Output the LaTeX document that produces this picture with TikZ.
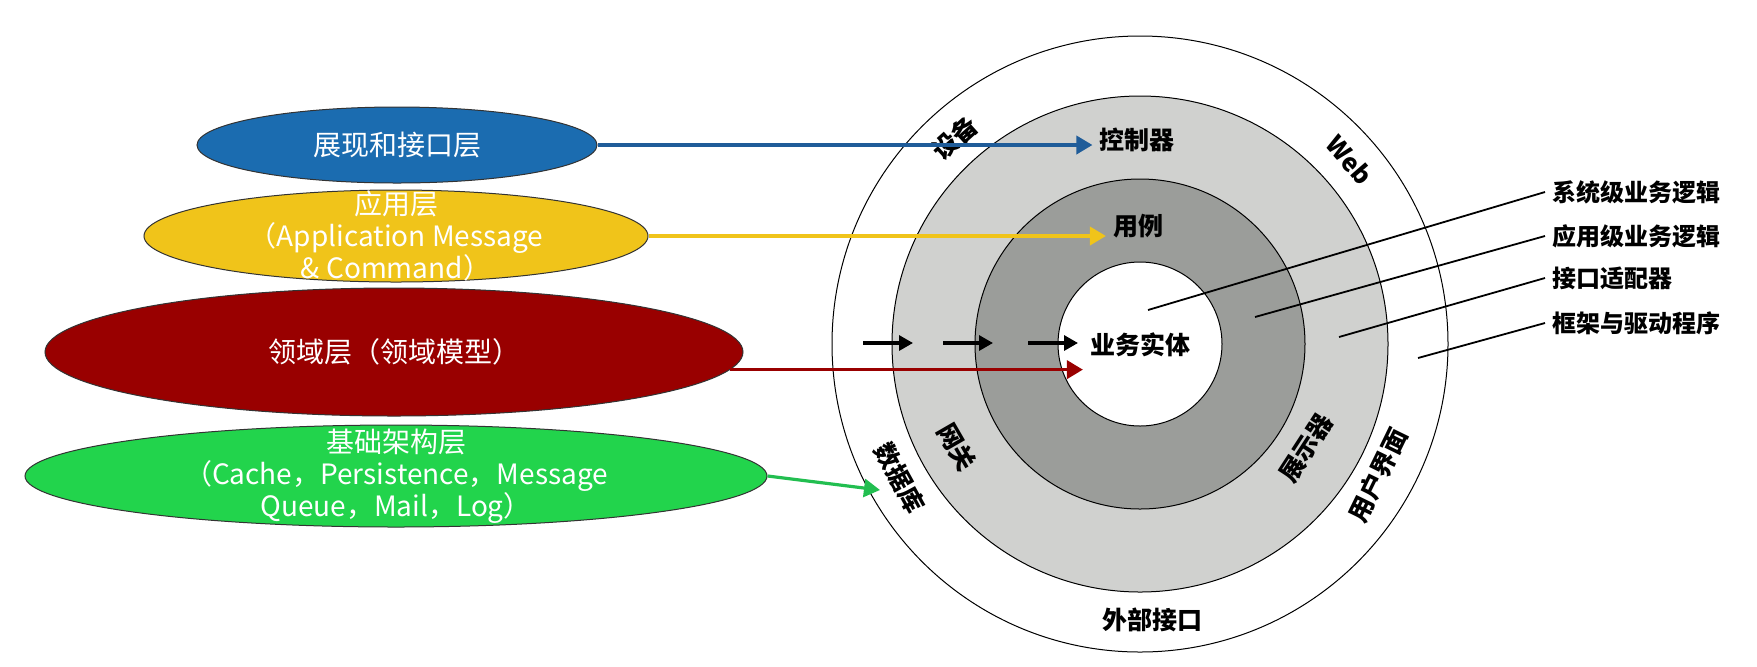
\documentclass[tikz,border=0pt]{standalone}
\usepackage{fontspec}
\setmainfont{Noto Sans CJK SC}
\usepackage{tikz}
\usetikzlibrary{shapes.geometric,arrows.meta,positioning}
\definecolor{layblue}{RGB}{27,108,176}
\definecolor{arrblue}{RGB}{31,92,153}
\definecolor{layyellow}{RGB}{240,196,26}
\definecolor{layred}{RGB}{153,0,0}
\definecolor{laygreen}{RGB}{34,212,76}
\definecolor{arrgreen}{RGB}{34,190,80}
\definecolor{ringlight}{RGB}{208,209,207}
\definecolor{ringdark}{RGB}{155,157,154}

\begin{document}
\begin{tikzpicture}[x=0.5pt,y=-0.5pt,
    layer/.style={ellipse,draw=black!80,line width=0.5pt,inner sep=0pt},
    laytext/.style={text=white,align=center,font=\fontsize{14}{16}\selectfont},
    ring/.style={font=\bfseries\fontsize{12.5}{14}\selectfont},
    note/.style={anchor=west,font=\bfseries\fontsize{12}{14}\selectfont},
    tip/.style={-{Triangle[length=8pt,width=9pt]},line width=1.8pt},
    blk/.style={-{Triangle[length=7pt,width=7.5pt]},line width=1.6pt}]
 \useasboundingbox (0,0) rectangle (1757,666);
 % onion rings
 \coordinate (c) at (1140,344);
 \draw[line width=0.5pt,fill=white] (c) circle[radius=308];
 \draw[line width=0.5pt,fill=ringlight] (c) circle[radius=248];
 \draw[line width=0.5pt,fill=ringdark] (c) circle[radius=165];
 \draw[line width=0.5pt,fill=white] (c) circle[radius=82];
 \node[ring] (ctrl) at (1137,140) {控制器};
 \node[ring] (uc) at (1138,226) {用例};
 \node[ring] (ent) at (1140,345) {业务实体};
 \node[ring] (ext) at (1152,620) {外部接口};
 \node[ring,rotate=42] (dev) at (955,138) {设备};
 \node[ring,rotate=-49] (web) at (1350,160) {Web};
 \node[ring,rotate=-61] (db) at (900,478) {数据库};
 \node[ring,rotate=-60] (gw) at (957,447) {网关};
 \node[ring,rotate=57] (pres) at (1306,448) {展示器};
 \node[ring,rotate=64] (ui) at (1378,475) {用户界面};
 \foreach \x in {863,943,1028} \draw[blk] (\x,343) -- ++(50,0);
 % layers
 \node[layer,fill=layblue,minimum width=200pt,minimum height=38pt] (pil) at (397,145) {};
 \node[laytext] at (pil) {展现和接口层};
 \node[layer,fill=layyellow,minimum width=252pt,minimum height=46pt] (app) at (396,236) {};
 \node[laytext] at (app) {应用层\\（Application Message\\\& Command）};
 \node[layer,fill=layred,minimum width=349pt,minimum height=64pt] (dom) at (394,352) {};
 \node[laytext] at (dom) {领域层（领域模型）};
 \node[layer,fill=laygreen,minimum width=371pt,minimum height=51pt] (inf) at (396,476) {};
 \node[laytext] at (inf) {基础架构层\\（Cache，Persistence，Message\\Queue，Mail，Log）};
 \coordinate (dbtip) at (880,490);
 \draw[tip,arrblue] (pil.east) -- (pil.east -| ctrl.west);
 \draw[tip,layyellow] (app.east) -- (app.east -| uc.west);
 \draw[tip,layred] (dom.-3) -- (dom.-3 -| ent.west);
 \draw[tip,arrgreen,line width=1.6pt] (inf.east) -- (dbtip);
 % notes on the right
 \node[note] (l1) at (1545,192) {系统级业务逻辑};
 \node[note] (l2) at (1545,236) {应用级业务逻辑};
 \node[note] (l3) at (1545,278) {接口适配器};
 \node[note] (l4) at (1545,323) {框架与驱动程序};
 \foreach \n/\px/\py in {1/1148/310,2/1255/317,3/1339/337,4/1418/358}
  \draw[line width=0.9pt] (\px,\py) -- (l\n.west);
\end{tikzpicture}
\end{document}
